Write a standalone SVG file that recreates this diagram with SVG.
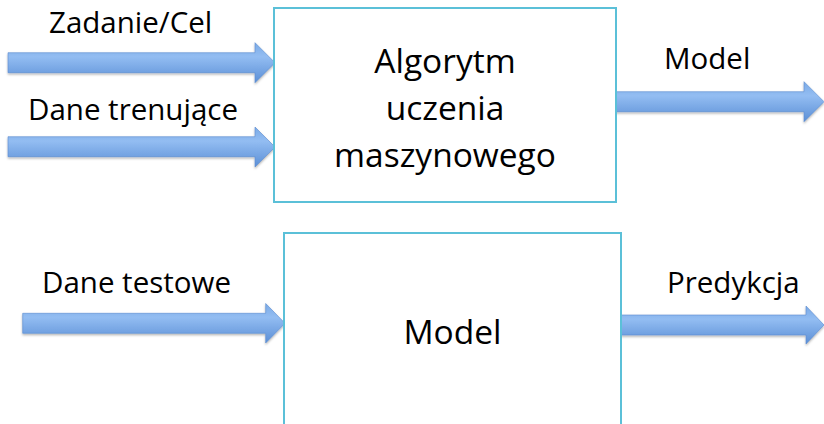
<svg xmlns="http://www.w3.org/2000/svg" width="824" height="424" viewBox="0 0 824 424">
<defs>
<linearGradient id="ag" x1="0" y1="0" x2="0" y2="1">
<stop offset="0" stop-color="#7aaae6"/>
<stop offset="0.35" stop-color="#93bdf2"/>
<stop offset="1" stop-color="#5b8fd6"/>
</linearGradient>
<filter id="sh" x="-5%" y="-20%" width="110%" height="150%">
<feDropShadow dx="0" dy="1.5" stdDeviation="1" flood-color="#000" flood-opacity="0.3"/>
</filter>
</defs>
<style>
.box{fill:#fff;stroke:#5bc0d8;stroke-width:2}
.arr{fill:url(#ag);stroke:#5a8bd0;stroke-width:0.6;filter:url(#sh)}
.lbl{font-family:"Open Sans","Noto Sans",sans-serif;font-size:29.5px;fill:#000}
.big{font-family:"Open Sans","Noto Sans",sans-serif;font-size:33.5px;fill:#000;text-anchor:middle}
</style>
<rect width="824" height="424" fill="#fff"/>
<g id="connectors">
<path class="arr" d="M8,52.7 H255 V42.7 L275,62.7 L255,82.7 V72.7 H8 Z"/>
<path class="arr" d="M8,136.7 H255 V127 L275,147 L255,167 V156.7 H8 Z"/>
<path class="arr" d="M615,91.7 H804 V81.7 L824,101.7 L804,121.7 V111.7 H615 Z"/>
<path class="arr" d="M22.7,313.3 H265.7 V303.5 L285,323.3 L265.7,343 V333.3 H22.7 Z"/>
<path class="arr" d="M621,315 H806 V306 L824,325 L806,344 V335 H621 Z"/>
</g>
<g id="node-algorytm">
<rect class="box" x="274" y="8" width="342" height="194"/>
<text class="big" x="445" y="73">Algorytm</text>
<text class="big" x="445" y="120">uczenia</text>
<text class="big" x="445" y="167">maszynowego</text>
</g>
<g id="node-model">
<rect class="box" x="284" y="233" width="337" height="200"/>
<text class="big" x="452.5" y="344">Model</text>
</g>
<g id="labels">
<text class="lbl" x="49" y="33">Zadanie/Cel</text>
<text class="lbl" x="28" y="120">Dane trenujące</text>
<text class="lbl" x="664" y="69">Model</text>
<text class="lbl" x="42" y="293">Dane testowe</text>
<text class="lbl" x="667" y="293">Predykcja</text>
</g>
</svg>
